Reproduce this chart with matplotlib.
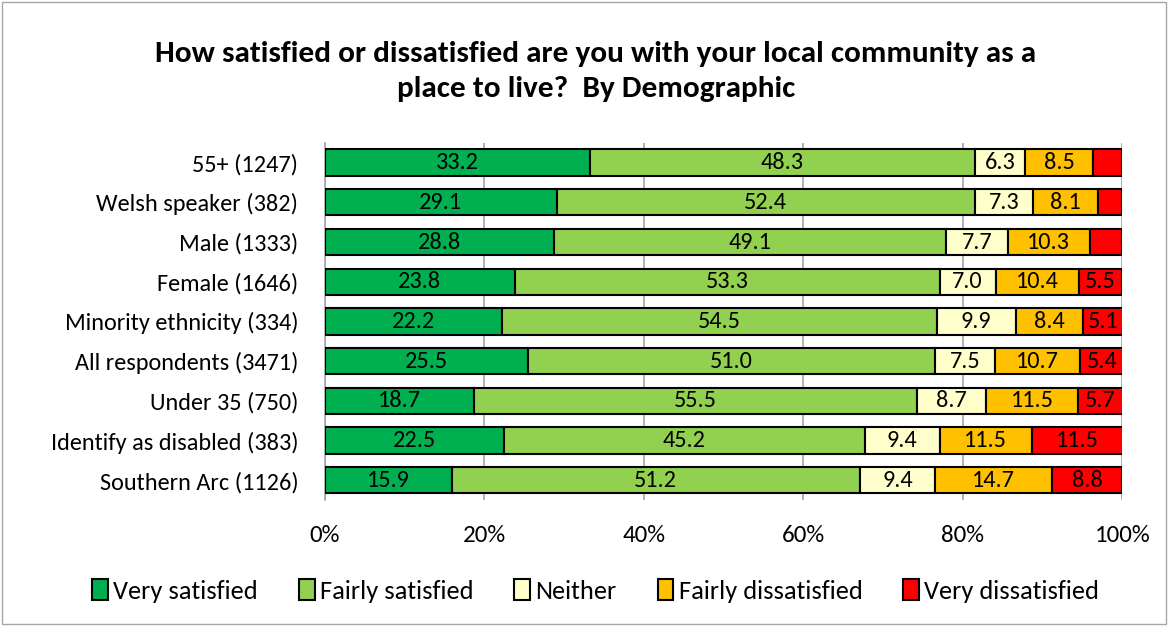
import matplotlib.pyplot as plt
from matplotlib.patches import Rectangle

plt.rcParams['font.family'] = ['Carlito', 'Lato', 'DejaVu Sans']

groups = ['55+ (1247)', 'Welsh speaker (382)', 'Male (1333)', 'Female (1646)',
          'Minority ethnicity (334)', 'All respondents (3471)', 'Under 35 (750)',
          'Identify as disabled (383)', 'Southern Arc (1126)']
very_satisfied = [33.2, 29.1, 28.8, 23.8, 22.2, 25.5, 18.7, 22.5, 15.9]
fairly_satisfied = [48.3, 52.4, 49.1, 53.3, 54.5, 51.0, 55.5, 45.2, 51.2]
neither = [6.3, 7.3, 7.7, 7.0, 9.9, 7.5, 8.7, 9.4, 9.4]
fairly_dissatisfied = [8.5, 8.1, 10.3, 10.4, 8.4, 10.7, 11.5, 11.5, 14.7]
very_dissatisfied = [3.7, 3.1, 4.1, 5.5, 5.1, 5.4, 5.7, 11.5, 8.8]
# the chart leaves the smallest red segments unlabelled
show_red_label = [False, False, False, True, True, True, True, True, True]

series = [
    ('Very satisfied', very_satisfied, '#00B050'),
    ('Fairly satisfied', fairly_satisfied, '#92D050'),
    ('Neither', neither, '#FFFFCC'),
    ('Fairly dissatisfied', fairly_dissatisfied, '#FFC000'),
    ('Very dissatisfied', very_dissatisfied, '#FF0000'),
]

fig = plt.figure(figsize=(11.68, 6.26), dpi=100)
ax = fig.add_axes([0.278, 0.201, 0.683, 0.571])

y = list(range(len(groups)))
left = [0.0] * len(groups)
for name, vals, color in series:
    bars = ax.barh(y, vals, left=left, height=0.66, color=color,
                   edgecolor='black', linewidth=1.5, label=name, zorder=3)
    for i, (b, v) in enumerate(zip(bars, vals)):
        if name == 'Very dissatisfied' and not show_red_label[i]:
            continue
        ax.text(left[i] + v / 2, i, f'{v:.1f}', ha='center', va='center',
                fontsize=17.5, color='black', zorder=4)
    left = [l + v for l, v in zip(left, vals)]

ax.set_ylim(len(groups) - 0.5, -0.5)
ax.set_xlim(0, 100)
ax.set_yticks(y)
ax.set_yticklabels(groups, fontsize=17.5)
ax.set_xticks(range(0, 101, 20))
ax.set_xticklabels([f'{t}%' for t in range(0, 101, 20)], fontsize=18)
ax.tick_params(axis='x', length=0, pad=18)
ax.tick_params(axis='y', length=0, pad=19)
ax.grid(axis='x', color='#A6A6A6', linewidth=1.2, zorder=0)
for s in ['top', 'right', 'bottom']:
    ax.spines[s].set_visible(False)
ax.spines['left'].set_color('#A6A6A6')
ax.spines['left'].set_linewidth(1.2)

fig.text(0.51, 0.886, 'How satisfied or dissatisfied are you with your local community as a\nplace to live?  By Demographic',
         ha='center', va='center', fontsize=22.5, fontweight='bold', linespacing=1.45)

fig.legend(loc='center', bbox_to_anchor=(0.51, 1 - 591 / 626), ncol=5,
           frameon=False, fontsize=19, handlelength=0.6, handleheight=0.8,
           handletextpad=0.2, columnspacing=1.55)

fig.patches.append(Rectangle((0.002, 0.003), 0.996, 0.994, transform=fig.transFigure,
                             fill=False, edgecolor='#A6A6A6', linewidth=1))

plt.savefig('out.png', dpi=100)
